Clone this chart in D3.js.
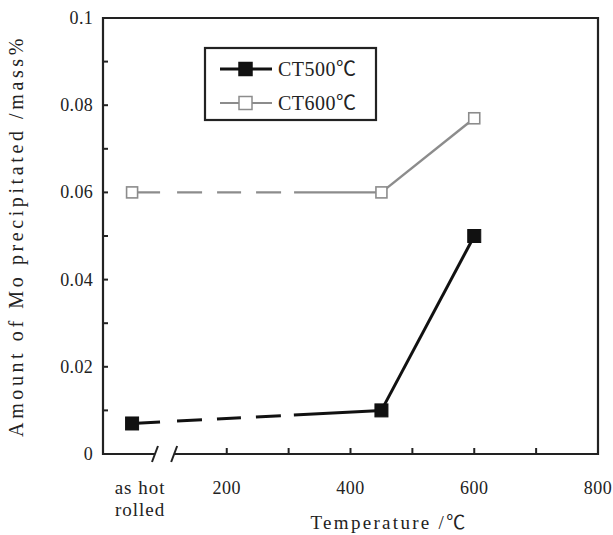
<!DOCTYPE html>
<html>
<head>
<meta charset="utf-8">
<script src="https://cdn.jsdelivr.net/npm/d3@7"></script>
<style>
  body { margin: 0; background: #fff; }
  text { font-family: "Liberation Serif", "Noto Sans CJK SC", serif; fill: #222; }
</style>
</head>
<body>
<svg width="613" height="535"></svg>
<script>
// data
var temps = [47, 450, 600];            // first one is "as hot rolled"
var ct500 = [0.007, 0.010, 0.050];
var ct600 = [0.060, 0.060, 0.077];
var seriesNames = ["CT500\u2103", "CT600\u2103"];
var yTicks = [0, 0.01, 0.02, 0.03, 0.04, 0.05, 0.06, 0.07, 0.08, 0.09, 0.1];
var yLabels = [0, 0.02, 0.04, 0.06, 0.08, 0.1];
var xTicks = [200, 300, 400, 500, 600, 700];
var xLabels = [200, 400, 600, 800];
var hotRolledLabelAt = 60;

var svg = d3.select("svg");
var m = {left: 103, right: 598, top: 18, bottom: 454};

var x = d3.scaleLinear().domain([0, 800]).range([m.left, m.right]);
var y = d3.scaleLinear().domain([0, 0.1]).range([m.bottom, m.top]);

// frame: left, top, right full; bottom broken
svg.append("path")
  .attr("d", "M" + x(115) + "," + m.bottom + "H" + m.right + "V" + m.top + "H" + m.left + "V" + m.bottom + "H" + x(84))
  .attr("fill", "none").attr("stroke", "#222").attr("stroke-width", 2.2);
// break marks
[84, 115].forEach(function(v) {
  svg.append("line")
    .attr("x1", x(v) - 3).attr("y1", m.bottom + 8)
    .attr("x2", x(v) + 3).attr("y2", m.bottom - 8)
    .attr("stroke", "#222").attr("stroke-width", 2);
});

// y ticks (inside)
svg.selectAll(".yt").data(yTicks.slice(1, -1)).enter().append("line")
  .attr("x1", m.left).attr("x2", m.left + 5)
  .attr("y1", function(d) { return y(d); }).attr("y2", function(d) { return y(d); })
  .attr("stroke", "#222").attr("stroke-width", 2);
svg.selectAll(".yl").data(yLabels).enter().append("text")
  .attr("x", m.left - 10).attr("y", function(d) { return y(d) + 6; })
  .attr("text-anchor", "end").attr("font-size", 18).attr("letter-spacing", 0.3)
  .text(function(d) { return d === 0 ? "0" : String(d); });

// x ticks (inside)
svg.selectAll(".xt").data(xTicks).enter().append("line")
  .attr("x1", function(d) { return x(d); }).attr("x2", function(d) { return x(d); })
  .attr("y1", m.bottom).attr("y2", m.bottom - 6)
  .attr("stroke", "#222").attr("stroke-width", 2);
svg.selectAll(".xl").data(xLabels).enter().append("text")
  .attr("x", function(d) { return x(d); }).attr("y", m.bottom + 40)
  .attr("text-anchor", "middle").attr("font-size", 18).attr("letter-spacing", 0.5)
  .text(function(d) { return d; });
var hr = svg.append("text").attr("x", x(hotRolledLabelAt)).attr("y", m.bottom + 40)
  .attr("text-anchor", "middle").attr("font-size", 19).attr("letter-spacing", 1);
hr.append("tspan").attr("x", x(hotRolledLabelAt)).text("as hot");
hr.append("tspan").attr("x", x(hotRolledLabelAt)).attr("dy", 22).text("rolled");

// axis titles
svg.append("text").attr("x", 389).attr("y", 529)
  .attr("text-anchor", "middle").attr("font-size", 19).attr("letter-spacing", 2.3)
  .text("Temperature /\u2103");
svg.append("text").attr("transform", "translate(23," + ((m.bottom + m.top) / 2) + ") rotate(-90)")
  .attr("text-anchor", "middle").attr("font-size", 20).attr("letter-spacing", 3.6)
  .text("Amount of Mo precipitated /mass%");

// series
function drawSeries(vals, color, width, filled, size) {
  var pts = temps.map(function(t, i) { return [x(t), y(vals[i])]; });
  svg.append("line")
    .attr("x1", pts[0][0]).attr("y1", pts[0][1]).attr("x2", pts[1][0]).attr("y2", pts[1][1])
    .attr("stroke", color).attr("stroke-width", width)
    .attr("stroke-dasharray", "28,17,25,15,24,15,25,13,400");
  svg.append("line")
    .attr("x1", pts[1][0]).attr("y1", pts[1][1]).attr("x2", pts[2][0]).attr("y2", pts[2][1])
    .attr("stroke", color).attr("stroke-width", width);
  svg.selectAll(null).data(pts).enter().append("rect")
    .attr("x", function(p) { return p[0] - size / 2; })
    .attr("y", function(p) { return p[1] - size / 2; })
    .attr("width", size).attr("height", size)
    .attr("fill", filled ? color : "#fff")
    .attr("stroke", color).attr("stroke-width", filled ? 1 : 1.6);
}
drawSeries(ct600, "#8c8c8c", 2.4, false, 11);
drawSeries(ct500, "#111", 3, true, 13);

// legend
var lg = svg.append("g");
lg.append("rect").attr("x", 205).attr("y", 48).attr("width", 171).attr("height", 72)
  .attr("fill", "#fff").attr("stroke", "#222").attr("stroke-width", 2.2);
var legendRows = [
  { name: seriesNames[0], color: "#111", w: 3.2, filled: true, y: 69 },
  { name: seriesNames[1], color: "#8c8c8c", w: 2.2, filled: false, y: 103 }
];
legendRows.forEach(function(r) {
  lg.append("line").attr("x1", 220).attr("x2", 272).attr("y1", r.y).attr("y2", r.y)
    .attr("stroke", r.color).attr("stroke-width", r.w);
  lg.append("rect").attr("x", 239).attr("y", r.y - 6.5).attr("width", 13).attr("height", 13)
    .attr("fill", r.filled ? r.color : "#fff").attr("stroke", r.color).attr("stroke-width", 1.5);
  lg.append("text").attr("x", 278).attr("y", r.y + 7).attr("font-size", 20).attr("letter-spacing", 0.5)
    .text(r.name);
});
</script>
</body>
</html>
